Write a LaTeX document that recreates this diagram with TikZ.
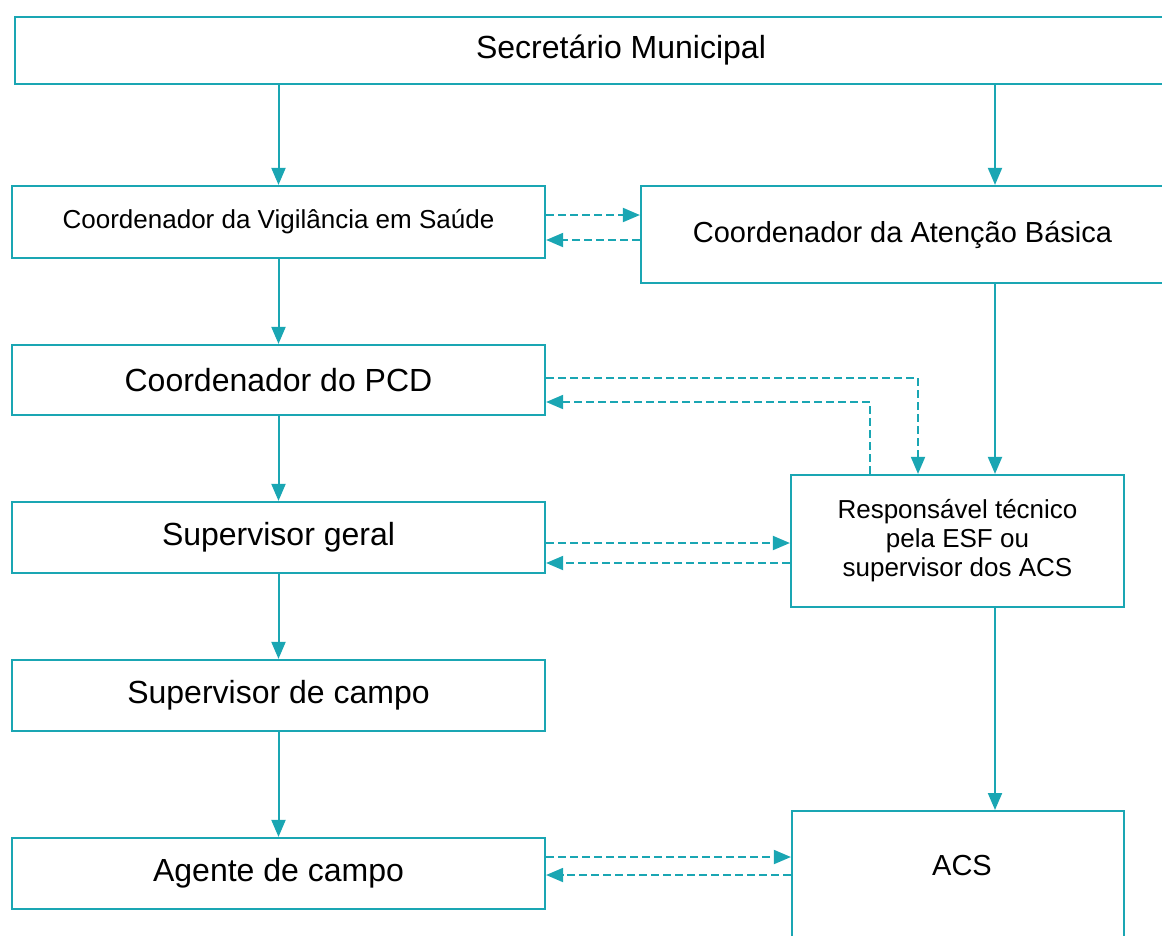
\documentclass[tikz,border=0pt]{standalone}
\usepackage{fontspec}
\setmainfont{Liberation Sans}
\usetikzlibrary{arrows.meta}
\definecolor{tealline}{HTML}{1AA6B3}
\newcommand{\fsz}[1]{\fontsize{#1}{#1}\selectfont}

\begin{document}
\begin{tikzpicture}[x=1pt,y=-1pt,>={Triangle[length=17pt,width=14pt]},
  box/.style={draw=tealline,line width=2.2pt,inner sep=0pt,align=center,fill=white},
  link/.style={->,draw=tealline,line width=2pt},
  back/.style={->,draw=tealline,line width=1.9pt,dash pattern=on 8pt off 4pt}]
\useasboundingbox (0,0) rectangle (1162,935);
\clip (0,0) rectangle (1162,935);
% left column
\node[box,minimum width=1212,minimum height=67,font=\fsz{32}] (sec) at (621,50.5) {Secretário Municipal};
\node[box,minimum width=533,minimum height=72,font=\fsz{26}] (vig) at (278.5,222) {Coordenador da Vigilância em Saúde};
\node[box,minimum width=533,minimum height=70,font=\fsz{32}] (pcd) at (278.5,380) {Coordenador do PCD};
\node[box,minimum width=533,minimum height=71,font=\fsz{32}] (sg) at (278.5,537.5) {Supervisor geral};
\node[box,minimum width=533,minimum height=71,font=\fsz{32}] (sc) at (278.5,695.5) {Supervisor de campo};
\node[box,minimum width=533,minimum height=71,font=\fsz{32}] (ag) at (278.5,873.5) {Agente de campo};
% right column
\node[box,minimum width=523,minimum height=97,font=\fsz{29}] (ab) at (902.5,234.5) {Coordenador da Atenção Básica};
\node[box,minimum width=333,minimum height=132,font=\fontsize{26}{29}\selectfont] (rt) at (957.5,541)
  {Responsável técnico\\pela ESF ou\\supervisor dos ACS};
\node[box,minimum width=332,minimum height=200,anchor=north] (acs) at (958,810) {};
\node[font=\fsz{29}] (acstxt) at (962,866) {ACS};
\coordinate (spine) at (995,0);
% hierarchy
\draw[link] (sec.south -| vig.north) -- (vig.north);
\draw[link] (vig) -- (pcd);
\draw[link] (pcd) -- (sg);
\draw[link] (sg) -- (sc);
\draw[link] (sc) -- (ag);
\draw[link] (sec.south -| spine) -- (ab.north -| spine);
\draw[link] (ab.south -| spine) -- (rt.north -| spine);
\draw[link] (rt.south -| spine) -- (acs.north -| spine);
% exchanges
\draw[back] ([yshift=7pt]vig.east) -- ([yshift=7pt]vig.east -| ab.west);
\draw[back] ([yshift=-18pt]vig.east -| ab.west) -- ([yshift=-18pt]vig.east);
\draw[back] ([yshift=2pt]pcd.east) -| ([xshift=-39.5pt]rt.north);
\draw[back] ([xshift=-87.5pt]rt.north) |- ([yshift=-22pt]pcd.east);
\draw[back] ([yshift=-5.5pt]sg.east) -- ([yshift=-5.5pt]sg.east -| rt.west);
\draw[back] ([yshift=-25.5pt]sg.east -| rt.west) -- ([yshift=-25.5pt]sg.east);
\draw[back] ([yshift=16.5pt]ag.east) -- ([yshift=16.5pt]ag.east -| acs.west);
\draw[back] ([yshift=-1.5pt]ag.east -| acs.west) -- ([yshift=-1.5pt]ag.east);
\end{tikzpicture}
\end{document}
